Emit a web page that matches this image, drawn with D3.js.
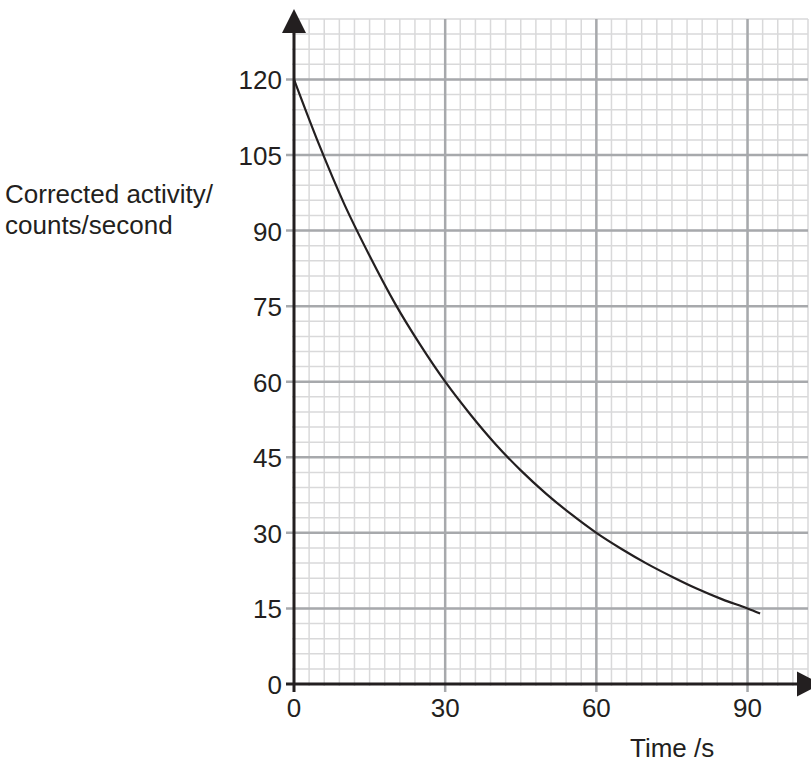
<!DOCTYPE html>
<html>
<head>
<meta charset="utf-8">
<script src="https://cdn.jsdelivr.net/npm/d3@7"></script>
<style>
  html, body { margin: 0; padding: 0; background: #fff; }
  svg text { font-family: "Liberation Sans", Arial, sans-serif; fill: #231f20; }
</style>
</head>
<body>
<svg id="chart" width="811" height="763"></svg>
<script>
// values (time in s, corrected activity in counts/s)
var timeValues = [0, 5, 10, 15, 20, 25, 30, 35, 40, 45, 50, 55, 60, 65, 70, 75, 80, 85, 90, 92.5];
var activityValues = [120, 107, 95.2, 85, 75.6, 67.4, 60, 53.5, 47.6, 42.4, 37.8, 33.7, 30, 26.8, 23.9, 21.3, 18.9, 16.8, 15, 14];
var xTicks = [0, 30, 60, 90];
var yTicks = [0, 15, 30, 45, 60, 75, 90, 105, 120];
var yTitle = ["Corrected activity/", "counts/second"];
var xTitle = "Time /s";

var svg = d3.select("#chart");
var fontSize = 26;

var x = d3.scaleLinear().domain([0, 102]).range([294, 808]);
var y = d3.scaleLinear().domain([0, 132]).range([684, 19]);

var minorX = d3.range(0, 103, 3);
var minorY = d3.range(0, 133, 3);

var grid = svg.append("g");

// minor grid
grid.selectAll(".vminor").data(minorX).enter().append("line")
  .attr("x1", function (d) { return x(d); })
  .attr("x2", function (d) { return x(d); })
  .attr("y1", y(0) + 2)
  .attr("y2", y(132))
  .attr("stroke", "#d9d9da")
  .attr("stroke-width", 1.5);

grid.selectAll(".hminor").data(minorY).enter().append("line")
  .attr("x1", x(0) - 2)
  .attr("x2", x(102))
  .attr("y1", function (d) { return y(d); })
  .attr("y2", function (d) { return y(d); })
  .attr("stroke", "#d9d9da")
  .attr("stroke-width", 1.5);

// major grid
grid.selectAll(".vmajor").data(xTicks.slice(1)).enter().append("line")
  .attr("x1", function (d) { return x(d); })
  .attr("x2", function (d) { return x(d); })
  .attr("y1", y(0) + 8)
  .attr("y2", y(132))
  .attr("stroke", "#a7a9ac")
  .attr("stroke-width", 2.5);

grid.selectAll(".hmajor").data(yTicks.slice(1)).enter().append("line")
  .attr("x1", x(0) - 8)
  .attr("x2", x(102))
  .attr("y1", function (d) { return y(d); })
  .attr("y2", function (d) { return y(d); })
  .attr("stroke", "#a7a9ac")
  .attr("stroke-width", 2.5);

// curve
var line = d3.line()
  .x(function (d) { return x(d[0]); })
  .y(function (d) { return y(d[1]); })
  .curve(d3.curveMonotoneX);

svg.append("path")
  .datum(d3.zip(timeValues, activityValues))
  .attr("d", line)
  .attr("fill", "none")
  .attr("stroke", "#231f20")
  .attr("stroke-width", 2.2);

// axes
var axisColor = "#231f20";
svg.append("line")
  .attr("x1", x(0)).attr("x2", x(0))
  .attr("y1", y(0) + 8).attr("y2", 30)
  .attr("stroke", axisColor).attr("stroke-width", 3);
svg.append("line")
  .attr("x1", x(0) - 8).attr("x2", 800)
  .attr("y1", y(0)).attr("y2", y(0))
  .attr("stroke", axisColor).attr("stroke-width", 3);

svg.append("path")
  .attr("d", "M" + x(0) + ",9 L" + (x(0) - 12) + ",33 L" + (x(0) + 12) + ",33 Z")
  .attr("fill", axisColor);
svg.append("path")
  .attr("d", "M821," + y(0) + " L797," + (y(0) - 12.5) + " L797," + (y(0) + 12.5) + " Z")
  .attr("fill", axisColor);

// tick labels
svg.selectAll(".ylab").data(yTicks).enter().append("text")
  .attr("x", 282)
  .attr("y", function (d) { return y(d) + 10; })
  .attr("text-anchor", "end")
  .attr("font-size", fontSize)
  .text(function (d) { return d; });

svg.selectAll(".xlab").data(xTicks).enter().append("text")
  .attr("x", function (d) { return x(d); })
  .attr("y", y(0) + 33)
  .attr("text-anchor", "middle")
  .attr("font-size", fontSize)
  .text(function (d) { return d; });

// titles
svg.selectAll(".ytitle").data(yTitle).enter().append("text")
  .attr("x", 5)
  .attr("y", function (d, i) { return 203 + i * 31; })
  .attr("font-size", fontSize)
  .text(function (d) { return d; });

svg.append("text")
  .attr("x", 630)
  .attr("y", 757)
  .attr("font-size", fontSize)
  .text(xTitle);
</script>
</body>
</html>
